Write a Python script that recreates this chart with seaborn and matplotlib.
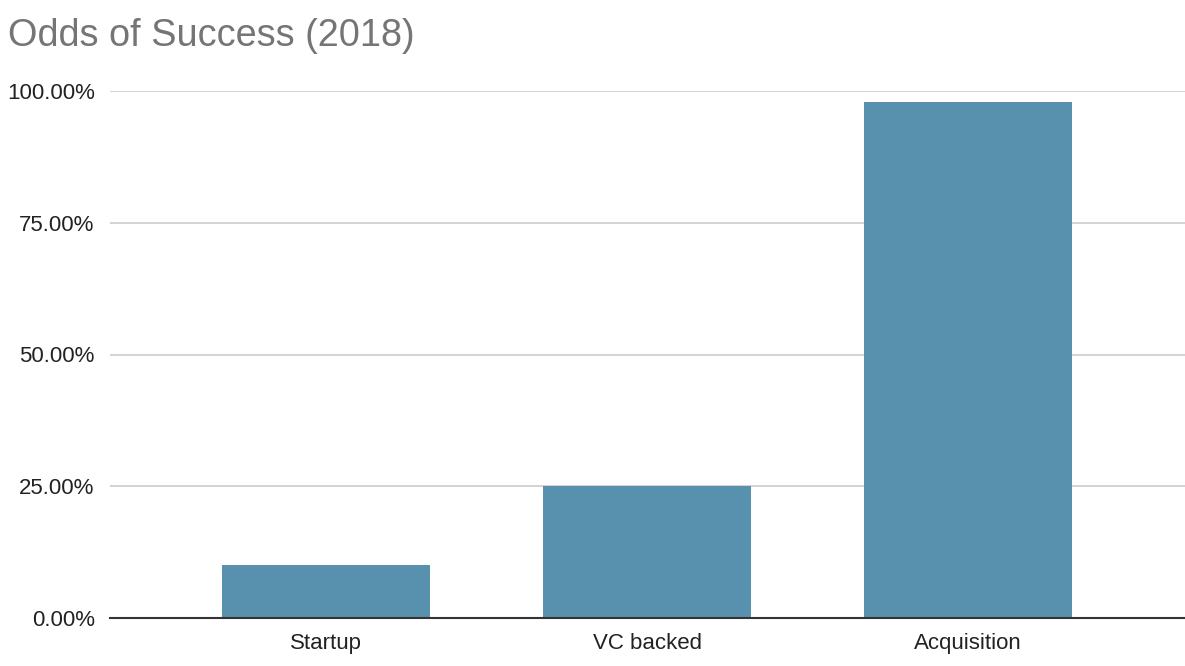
import matplotlib
matplotlib.use("Agg")
import matplotlib.pyplot as plt
import seaborn as sns
import pandas as pd
from matplotlib.ticker import FuncFormatter
from matplotlib.patches import FancyBboxPatch

categories = ["Startup", "VC backed", "Acquisition"]
values = [10.0, 25.0, 98.0]
yticks = [0, 25, 50, 75, 100]

sns.set_theme(style="white")
plt.rcParams['font.family'] = ['Liberation Sans', 'DejaVu Sans']

df = pd.DataFrame({"cat": categories, "val": values})

fig = plt.figure(figsize=(11.85, 6.66), dpi=100)
ax = fig.add_axes([110/1185, (666-618)/666, (1185-110)/1185, (618-91)/666])
sns.barplot(data=df, x="cat", y="val", color="#5891AD", saturation=1, width=0.648, ax=ax, zorder=3)
for p in ax.patches:
    p.set_edgecolor("none")

ax.set_ylim(0, 100)
ax.set_xlim(-0.673, 2.676)
ax.set_yticks(yticks)
ax.yaxis.set_major_formatter(FuncFormatter(lambda v, _: f"{v:.2f}%"))
ax.grid(axis="y", color="#cccccc", linewidth=1.2, zorder=0)
ax.grid(axis="x", visible=False)
for s in ["left", "right", "top"]:
    ax.spines[s].set_visible(False)
ax.spines["bottom"].set_color("#333333")
ax.spines["bottom"].set_linewidth(1.5)
ax.spines["bottom"].set_zorder(4)
ax.set_xlabel("")
ax.set_ylabel("")
ax.tick_params(axis="both", length=0, labelsize=16, colors="#222222")
ax.tick_params(axis="x", pad=11)
ax.tick_params(axis="y", pad=11)

fig.text(8/1185, 1 - 46/666, "Odds of Success (2018)", fontsize=27.3, color="#757575", ha="left", va="baseline")

fig.savefig("out.png", dpi=100)
